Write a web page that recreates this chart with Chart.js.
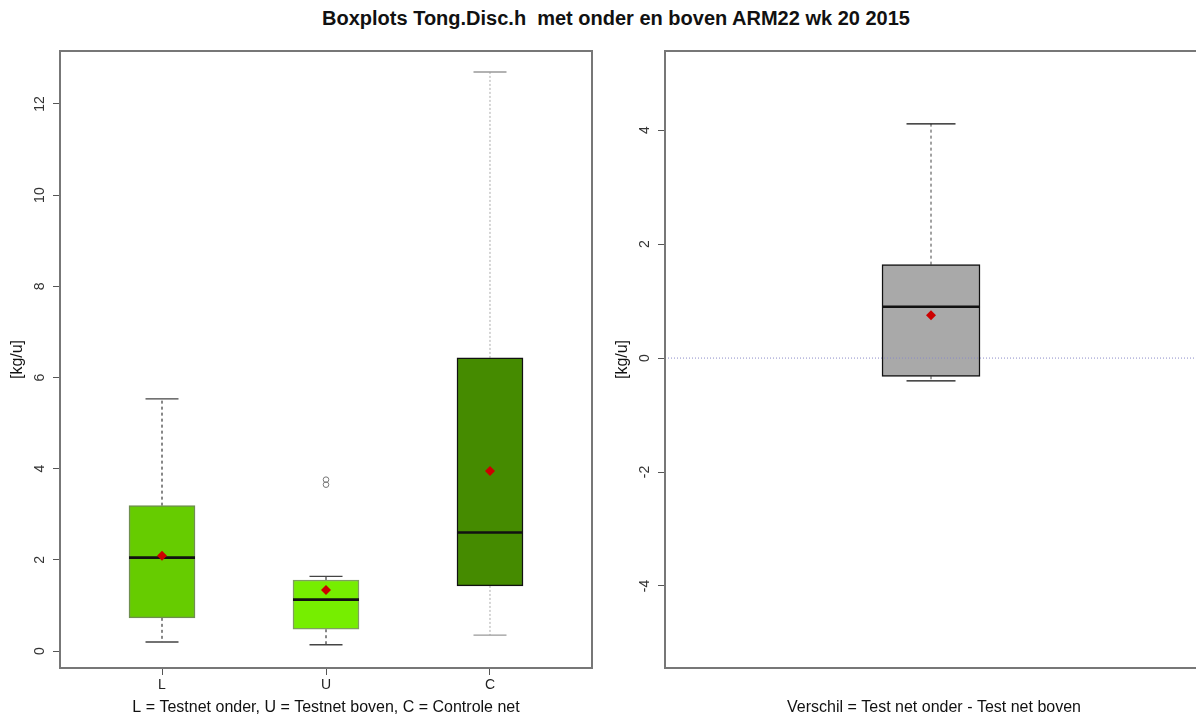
<!DOCTYPE html>
<html>
<head>
<meta charset="utf-8">
<script src="https://cdn.jsdelivr.net/npm/chart.js@4.4.1/dist/chart.umd.min.js"></script>
<style>
    body { margin: 0; background: #fff; width: 1196px; height: 720px; position: relative; overflow: hidden; }
    #titel { position: absolute; left: 266px; top: 7px; width: 700px; text-align: center; white-space: pre;
        font: bold 20px "Liberation Sans", Arial, sans-serif; line-height: 22px; color: #111; }
    #links { position: absolute; left: 0; top: 0; }
    #rechts { position: absolute; left: 598px; top: 0; }
</style>
</head>
<body>
<div id="titel">Boxplots Tong.Disc.h  met onder en boven ARM22 wk 20 2015</div>
<canvas id="links" width="600" height="720"></canvas>
<canvas id="rechts" width="612" height="720"></canvas>
<script>
// linker plot: L, U, C
var categorieen = ['L', 'U', 'C'];
var whiskerLaag = [0.20, 0.14, 0.35];
var kwartiel1 = [0.73, 0.48, 1.43];
var mediaan = [2.05, 1.13, 2.60];
var kwartiel3 = [3.19, 1.56, 6.43];
var whiskerHoog = [5.53, 1.64, 12.70];
var gemiddelde = [2.09, 1.34, 3.95];
var uitschieterCat = 'U';
var uitschieters = [3.65, 3.76];
var yTicksLinks = [0, 2, 4, 6, 8, 10, 12];

// rechter plot: verschil
var verschilLaag = [-0.40];
var verschilQ1 = [-0.32];
var verschilMediaan = [0.90];
var verschilQ3 = [1.64];
var verschilHoog = [4.11];
var verschilGem = [0.75];
var yTicksRechts = [-4, -2, 0, 2, 4];

var lettertype = '"Liberation Sans", Arial, sans-serif';

// whiskers, medianen, kader en nullijn tekenen via de schalen van de grafiek
const boxExtra = {
    id: 'boxExtra',
    beforeDatasetsDraw(chart, args, opts) {
        const meta = chart.getDatasetMeta(opts.boxIndex);
        const y = chart.scales.y;
        const ctx = chart.ctx;
        ctx.save();
        for (var i = 0; i < meta.data.length; i++) {
            const el = meta.data[i];
            const half = el.width / 4;
            const yl = y.getPixelForValue(opts.laag[i]);
            const yh = y.getPixelForValue(opts.hoog[i]);
            const y1 = y.getPixelForValue(opts.q1[i]);
            const y3 = y.getPixelForValue(opts.q3[i]);
            ctx.lineWidth = 1;
            ctx.strokeStyle = opts.lijnKleur[i];
            ctx.setLineDash(opts.streep[i]);
            ctx.beginPath();
            ctx.moveTo(el.x, y3); ctx.lineTo(el.x, yh);
            ctx.moveTo(el.x, y1); ctx.lineTo(el.x, yl);
            ctx.stroke();
            ctx.setLineDash([]);
            ctx.lineWidth = 1.3;
            ctx.strokeStyle = opts.kapKleur[i];
            ctx.beginPath();
            ctx.moveTo(el.x - half, yh); ctx.lineTo(el.x + half, yh);
            ctx.moveTo(el.x - half, yl); ctx.lineTo(el.x + half, yl);
            ctx.stroke();
        }
        ctx.restore();
    },
    afterDatasetDraw(chart, args, opts) {
        if (args.index !== opts.boxIndex) return;
        const meta = chart.getDatasetMeta(opts.boxIndex);
        const y = chart.scales.y;
        const ctx = chart.ctx;
        ctx.save();
        ctx.lineWidth = 2.6;
        ctx.strokeStyle = '#111';
        for (var i = 0; i < meta.data.length; i++) {
            const el = meta.data[i];
            const ym = y.getPixelForValue(opts.med[i]);
            ctx.beginPath();
            ctx.moveTo(el.x - el.width / 2, ym);
            ctx.lineTo(el.x + el.width / 2, ym);
            ctx.stroke();
        }
        ctx.restore();
    },
    afterDatasetsDraw(chart, args, opts) {
        const ctx = chart.ctx;
        const a = chart.chartArea;
        ctx.save();
        if (opts.nullijn !== null) {
            const y0 = chart.scales.y.getPixelForValue(opts.nullijn);
            ctx.strokeStyle = '#8a8ac8';
            ctx.lineWidth = 1;
            ctx.setLineDash([1, 2]);
            ctx.beginPath();
            ctx.moveTo(a.left, y0); ctx.lineTo(a.right, y0);
            ctx.stroke();
            ctx.setLineDash([]);
        }
        ctx.strokeStyle = '#777';
        ctx.lineWidth = 2;
        ctx.strokeRect(a.left, a.top, a.right - a.left, a.bottom - a.top);
        ctx.restore();
    }
};

function yAs(min, max, ticks, breedte, pad, titelPad) {
    return {
        type: 'linear',
        min: min,
        max: max,
        afterBuildTicks: function (s) { s.ticks = ticks.map(function (v) { return { value: v }; }); },
        afterFit: function (s) { s.width = breedte; },
        border: { display: false },
        grid: { drawOnChartArea: false, drawTicks: true, tickLength: 7, color: '#555', lineWidth: 1 },
        ticks: {
            minRotation: 90, maxRotation: 90, crossAlign: 'center', padding: pad,
            color: '#333', font: { family: lettertype, size: 14 },
            callback: function (v) { return String(v); }
        },
        title: { display: true, text: '[kg/u]', color: '#111', font: { family: lettertype, size: 16 }, padding: { top: titelPad, bottom: 0 } }
    };
}

function tekenLinks() {
    var ctx = document.getElementById('links').getContext('2d');
    var boxData = categorieen.map(function (c, i) { return { x: i + 1, y: [kwartiel1[i], kwartiel3[i]] }; });
    var gemData = categorieen.map(function (c, i) { return { x: i + 1, y: gemiddelde[i] }; });
    var uitData = uitschieters.map(function (v) { return { x: categorieen.indexOf(uitschieterCat) + 1, y: v }; });

    new Chart(ctx, {
        type: 'bar',
        data: {
            datasets: [{
                type: 'line', data: gemData, showLine: false, order: 0,
                pointStyle: 'rectRot', pointRadius: 5, backgroundColor: '#cc0000', borderColor: '#cc0000', borderWidth: 0
            }, {
                type: 'line', data: uitData, showLine: false, order: 1,
                pointStyle: 'circle', pointRadius: 2.8, backgroundColor: 'rgba(0,0,0,0)', borderColor: '#777', borderWidth: 1
            }, {
                type: 'bar', data: boxData, order: 2,
                barThickness: 66, borderSkipped: false, borderWidth: 1.5,
                backgroundColor: ['#66cc00', '#76ee00', '#458b00'],
                borderColor: ['#6f8f4f', '#7f9f5f', '#111']
            }]
        },
        options: {
            responsive: false,
            animation: false,
            layout: { padding: { top: 51, right: 8, left: 0, bottom: 0 } },
            plugins: {
                legend: { display: false },
                tooltip: { enabled: false },
                boxExtra: {
                    boxIndex: 2, laag: whiskerLaag, hoog: whiskerHoog, q1: kwartiel1, q3: kwartiel3, med: mediaan,
                    lijnKleur: ['#111', '#111', '#aaa'], kapKleur: ['#444', '#444', '#999'],
                    streep: [[3, 3], [3, 3], [2, 2]], nullijn: null
                }
            },
            scales: {
                x: {
                    type: 'linear', min: 0.378, max: 3.622, offset: false,
                    afterBuildTicks: function (s) { s.ticks = categorieen.map(function (c, i) { return { value: i + 1 }; }); },
                    afterFit: function (s) { s.height = 52; },
                    border: { display: false },
                    grid: { offset: false, drawOnChartArea: false, drawTicks: true, tickLength: 7, color: '#555' },
                    ticks: {
                        maxRotation: 0, padding: 2, color: '#222', font: { family: lettertype, size: 14 },
                        callback: function (v, i) { return categorieen[i]; }
                    },
                    title: {
                        display: true, text: 'L = Testnet onder, U = Testnet boven, C = Controle net', color: '#111',
                        font: { family: lettertype, size: 16 }, padding: { top: 0, bottom: 3 }
                    }
                },
                y: yAs(-0.37, 13.16, yTicksLinks, 60, 5, 8)
            }
        },
        plugins: [boxExtra]
    });
}

function tekenRechts() {
    var ctx = document.getElementById('rechts').getContext('2d');
    var boxData = verschilQ1.map(function (v, i) { return { x: i + 1, y: [verschilQ1[i], verschilQ3[i]] }; });
    var gemData = verschilGem.map(function (v, i) { return { x: i + 1, y: v }; });

    new Chart(ctx, {
        type: 'bar',
        data: {
            datasets: [{
                type: 'line', data: gemData, showLine: false, order: 0,
                pointStyle: 'rectRot', pointRadius: 5, backgroundColor: '#cc0000', borderColor: '#cc0000', borderWidth: 0
            }, {
                type: 'bar', data: boxData, order: 2,
                barThickness: 98, borderSkipped: false, borderWidth: 1.5,
                backgroundColor: '#a9a9a9', borderColor: '#111'
            }]
        },
        options: {
            responsive: false,
            animation: false,
            layout: { padding: { top: 51, right: 7, left: 0, bottom: 0 } },
            plugins: {
                legend: { display: false },
                tooltip: { enabled: false },
                boxExtra: {
                    boxIndex: 1, laag: verschilLaag, hoog: verschilHoog, q1: verschilQ1, q3: verschilQ3, med: verschilMediaan,
                    lijnKleur: ['#444'], kapKleur: ['#111'], streep: [[3, 3]], nullijn: 0
                }
            },
            scales: {
                x: {
                    type: 'linear', min: 0.466, max: 1.546, offset: false,
                    afterFit: function (s) { s.height = 52; },
                    border: { display: false },
                    grid: { display: false },
                    ticks: { display: false },
                    title: {
                        display: true, text: 'Verschil = Test net onder - Test net boven', color: '#111',
                        font: { family: lettertype, size: 16 }, padding: { top: 0, bottom: 3 }
                    }
                },
                y: yAs(-5.44, 5.39, yTicksRechts, 67, 7, 15)
            }
        },
        plugins: [boxExtra]
    });
}

tekenLinks();
tekenRechts();
</script>
</body>
</html>
